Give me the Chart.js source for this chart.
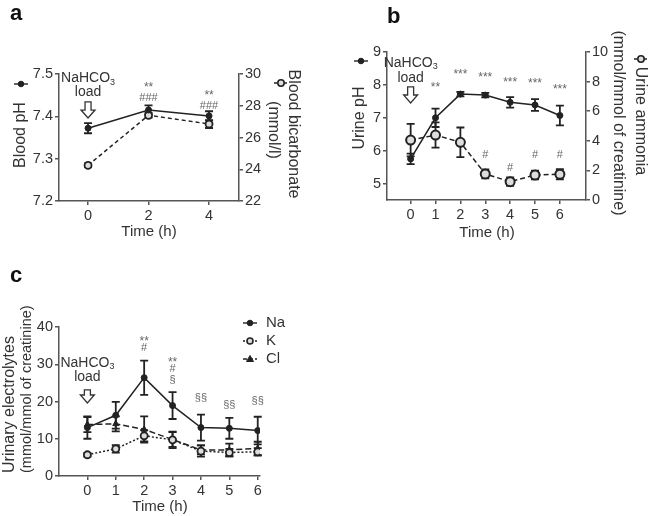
<!DOCTYPE html>
<html>
<head>
<meta charset="utf-8">
<script src="https://cdn.jsdelivr.net/npm/chart.js@4"></script>
<style>
  html, body { margin: 0; padding: 0; background: #fff; }
  #wrap { position: relative; width: 648px; height: 516px; }
  canvas { position: absolute; left: 0; top: 0; }
</style>
</head>
<body>
<div id="wrap">
  <canvas id="chartA" width="648" height="516"></canvas>
  <canvas id="chartB" width="648" height="516"></canvas>
  <canvas id="chartC" width="648" height="516"></canvas>
</div>
<script>
const FONT = "'Liberation Sans', Arial, Helvetica, sans-serif";
const INK = '#222';
const AXIS = '#555';
const TEXT = '#333';
const NOTE = '#666';
const BOX = 36; // fixed axis box size, labels live inside it

// ---- panel a: blood pH / bicarbonate ----
const timeA = [0, 2, 4];
const bloodPH = [7.372, 7.415, 7.401];
const bloodPHErr = [0.012, 0.011, 0.011];
const bicarb = [24.25, 27.4, 26.85];
const bicarbErr = [0.12, 0.15, 0.25];
const ticksTimeA = [0, 2, 4];
const ticksPHA = [7.2, 7.3, 7.4, 7.5];
const ticksBicarb = [22, 24, 26, 28, 30];
const notesA = [
  { x: 2, y: 7.474, t: '**' }, { x: 2, y: 7.443, t: '###' },
  { x: 4, y: 7.455, t: '**' }, { x: 4, y: 7.424, t: '###' }
];

// ---- panel b: urine pH / ammonia ----
const timeB = [0, 1, 2, 3, 4, 5, 6];
const urinePH = [5.75, 7.0, 7.72, 7.69, 7.47, 7.39, 7.07];
const urinePHErr = [0.16, 0.28, 0.07, 0.07, 0.16, 0.18, 0.3];
const ammonia = [4.05, 4.39, 3.9, 1.76, 1.24, 1.69, 1.74];
const ammoniaErr = [1.1, 0.85, 1.0, 0.3, 0.28, 0.3, 0.35];
const ticksTimeB = [0, 1, 2, 3, 4, 5, 6];
const ticksPHB = [5, 6, 7, 8, 9];
const ticksAmmonia = [0, 2, 4, 6, 8, 10];
const notesB = [
  { x: 1, y: 8.0, t: '**' }, { x: 2, y: 8.39, t: '***' }, { x: 3, y: 8.3, t: '***' },
  { x: 4, y: 8.15, t: '***' }, { x: 5, y: 8.12, t: '***' }, { x: 6, y: 7.94, t: '***' },
  { x: 3, y: 5.88, t: '#' }, { x: 4, y: 5.48, t: '#' }, { x: 5, y: 5.88, t: '#' }, { x: 6, y: 5.88, t: '#' }
];

// ---- panel c: urinary electrolytes ----
const timeC = [0, 1, 2, 3, 4, 5, 6];
const sodium = [13.0, 16.3, 26.4, 18.9, 13.0, 12.8, 12.2];
const sodiumErr = [3.0, 3.6, 4.6, 3.6, 3.5, 2.8, 3.7];
const potassium = [5.7, 7.3, 10.8, 9.7, 6.7, 6.3, 6.5];
const potassiumErr = [0.5, 1.0, 1.5, 2.2, 1.5, 1.0, 1.0];
const chloride = [13.8, 14.0, 12.5, 9.8, 7.0, 7.0, 7.4];
const chlorideErr = [2.0, 2.0, 3.5, 2.0, 1.2, 1.7, 1.8];
const ticksTimeC = [0, 1, 2, 3, 4, 5, 6];
const ticksElec = [0, 10, 20, 30, 40];
const notesC = [
  { x: 2, y: 36.6, t: '**' }, { x: 2, y: 34.4, t: '#' },
  { x: 3, y: 31.2, t: '**' }, { x: 3, y: 28.7, t: '#' }, { x: 3, y: 25.8, t: '§' },
  { x: 4, y: 21.0, t: '§§' }, { x: 5, y: 19.1, t: '§§' }, { x: 6, y: 20.2, t: '§§' }
];

const pts = (xs, ys) => xs.map((x, i) => ({ x: x, y: ys[i] }));

function axis(pos, min, max, ticks, fmt) {
  return {
    type: 'linear', position: pos, min: min, max: max,
    afterBuildTicks: s => { s.ticks = ticks.map(v => ({ value: v })); },
    afterFit: s => {
      if (s.isHorizontal()) s.height = BOX; else s.width = BOX;
      s.paddingLeft = s.paddingRight = s.paddingTop = s.paddingBottom = 0;
    },
    grid: { drawOnChartArea: false, color: AXIS, tickLength: 4, lineWidth: 1.5 },
    border: { color: AXIS, width: 1.5 },
    ticks: {
      color: TEXT, font: { family: FONT, size: 14.5 }, padding: 2,
      autoSkip: false, maxRotation: 0, callback: fmt || (v => String(v))
    }
  };
}

function series(data, errs, opts) {
  return Object.assign({
    data: data, errors: errs,
    borderColor: INK, borderWidth: 1.5, pointBorderColor: INK,
    pointBackgroundColor: INK, pointRadius: 3, pointBorderWidth: 1,
    tension: 0, fill: false
  }, opts);
}

const errorBars = {
  id: 'errorBars',
  beforeDatasetsDraw(chart) {
    const ctx = chart.ctx;
    chart.data.datasets.forEach((ds, i) => {
      if (!ds.errors) return;
      const meta = chart.getDatasetMeta(i);
      const xs = chart.scales[meta.xAxisID], ys = chart.scales[meta.yAxisID];
      ctx.save();
      ctx.strokeStyle = INK; ctx.lineWidth = 1.8;
      ds.data.forEach((p, j) => {
        const e = ds.errors[j];
        const x = xs.getPixelForValue(p.x);
        const y1 = ys.getPixelForValue(p.y - e), y2 = ys.getPixelForValue(p.y + e);
        ctx.beginPath();
        ctx.moveTo(x, y1); ctx.lineTo(x, y2);
        ctx.moveTo(x - 4, y1); ctx.lineTo(x + 4, y1);
        ctx.moveTo(x - 4, y2); ctx.lineTo(x + 4, y2);
        ctx.stroke();
      });
      ctx.restore();
    });
  }
};

// ---- drawing helpers ----
function text(ctx, t, x, y, size, opts) {
  opts = opts || {};
  ctx.save();
  ctx.translate(x, y);
  if (opts.rot) ctx.rotate(opts.rot);
  ctx.font = (opts.bold ? 'bold ' : '') + size + 'px ' + FONT;
  ctx.fillStyle = opts.color || TEXT;
  ctx.textAlign = opts.align || 'center';
  ctx.textBaseline = opts.base || 'middle';
  ctx.fillText(t, 0, 0);
  ctx.restore();
}

function marker(ctx, x, y, kind) {
  ctx.save();
  ctx.strokeStyle = INK; ctx.lineWidth = 1.4;
  ctx.setLineDash(kind.dash || []);
  ctx.beginPath(); ctx.moveTo(x - 7, y); ctx.lineTo(x + 7, y); ctx.stroke();
  ctx.setLineDash([]);
  ctx.fillStyle = kind.fill; ctx.lineWidth = kind.open ? 1.6 : 1;
  ctx.beginPath();
  if (kind.tri) {
    ctx.moveTo(x, y - 3.5); ctx.lineTo(x + 3.5, y + 2.5); ctx.lineTo(x - 3.5, y + 2.5); ctx.closePath();
  } else {
    ctx.arc(x, y, kind.r || 2.8, 0, Math.PI * 2);
  }
  ctx.fill(); ctx.stroke();
  ctx.restore();
}

function loadArrow(ctx, chart, yTop, yTip, yLine1, yLine2) {
  const x = chart.scales.x.getPixelForValue(0);
  const ys = chart.scales.y;
  const t = ys.getPixelForValue(yTop), b = ys.getPixelForValue(yTip);
  ctx.save();
  ctx.font = '14px ' + FONT;
  const w1 = ctx.measureText('NaHCO').width;
  ctx.font = '9px ' + FONT;
  const w2 = ctx.measureText('3').width;
  const x0 = x - (w1 + w2) / 2, y1 = ys.getPixelForValue(yLine1);
  text(ctx, 'NaHCO', x0, y1, 14, { align: 'left' });
  text(ctx, '3', x0 + w1, y1 + 4, 9, { align: 'left' });
  text(ctx, 'load', x, ys.getPixelForValue(yLine2), 14);
  const hh = 8;
  ctx.beginPath();
  ctx.moveTo(x - 3, t); ctx.lineTo(x + 3, t); ctx.lineTo(x + 3, b - hh); ctx.lineTo(x + 7, b - hh);
  ctx.lineTo(x, b); ctx.lineTo(x - 7, b - hh); ctx.lineTo(x - 3, b - hh); ctx.closePath();
  ctx.fillStyle = '#fff'; ctx.fill();
  ctx.strokeStyle = TEXT; ctx.lineWidth = 1.3; ctx.stroke();
  ctx.restore();
}

function notes(ctx, chart, list) {
  list.forEach(n => {
    const x = chart.scales.x.getPixelForValue(n.x);
    const y = chart.scales.y.getPixelForValue(n.y);
    const star = n.t.indexOf('*') >= 0;
    text(ctx, n.t, x, y + (star ? 2.5 : 0), star ? 12 : 11, { color: NOTE });
  });
}

const solidDot = { fill: INK };
const openDot = { fill: '#ddd', open: true, dash: [3, 2], r: 3.2 };

// area = [left, top, right, bottom] of the plot, sides = axes present
function makeChart(id, datasets, scales, area, sides, decor) {
  const pad = {
    left: area[0] - (sides.left ? BOX : 0),
    top: area[1],
    right: 648 - area[2] - (sides.right ? BOX : 0),
    bottom: 516 - area[3] - BOX
  };
  return new Chart(document.getElementById(id), {
    type: 'line',
    data: { datasets: datasets },
    options: {
      responsive: false, animation: false,
      layout: { padding: pad },
      scales: scales,
      plugins: { legend: { display: false }, tooltip: { enabled: false } }
    },
    plugins: [errorBars, { id: 'decor' + id, afterDraw: chart => decor(chart.ctx, chart) }]
  });
}

// ---- panel a ----
makeChart('chartA', [
  series(pts(timeA, bloodPH), bloodPHErr, { yAxisID: 'y' }),
  series(pts(timeA, bicarb), bicarbErr, {
    yAxisID: 'y2', borderDash: [4, 3], pointBackgroundColor: '#ddd', pointRadius: 3.5, pointBorderWidth: 1.8
  })
], {
  x: axis('bottom', -0.96, 4.99, ticksTimeA),
  y: axis('left', 7.2, 7.5, ticksPHA, v => v.toFixed(1)),
  y2: axis('right', 22, 30, ticksBicarb)
}, [59, 74, 239, 201], { left: true, right: true }, (ctx, chart) => {
  text(ctx, 'a', 10, 20, 22, { bold: true, align: 'left', base: 'alphabetic', color: '#111' });
  text(ctx, 'Time (h)', 149, 232, 15);
  text(ctx, 'Blood pH', 21, 135, 16, { rot: -Math.PI / 2 });
  marker(ctx, 21, 84, solidDot);
  text(ctx, 'Blood bicarbonate', 293, 134, 16, { rot: Math.PI / 2 });
  text(ctx, '(mmol/l)', 273, 130, 16, { rot: Math.PI / 2 });
  marker(ctx, 281, 83, openDot);
  loadArrow(ctx, chart, 7.434, 7.396, 7.49, 7.457);
  notes(ctx, chart, notesA);
});

// ---- panel b ----
makeChart('chartB', [
  series(pts(timeB, urinePH), urinePHErr, { yAxisID: 'y' }),
  series(pts(timeB, ammonia), ammoniaErr, {
    yAxisID: 'y2', borderDash: [5, 3], pointBackgroundColor: '#ddd', pointRadius: 4.5, pointBorderWidth: 2
  })
], {
  x: axis('bottom', -0.95, 7.05, ticksTimeB),
  y: axis('left', 4.5, 9, ticksPHB),
  y2: axis('right', 0, 10, ticksAmmonia)
}, [387, 52, 586, 200], { left: true, right: true }, (ctx, chart) => {
  text(ctx, 'b', 387, 23, 22, { bold: true, align: 'left', base: 'alphabetic', color: '#111' });
  text(ctx, 'Time (h)', 487, 233, 15);
  text(ctx, 'Urine pH', 360, 118, 16, { rot: -Math.PI / 2 });
  marker(ctx, 361, 61, solidDot);
  text(ctx, 'Urine ammonia', 640, 121, 16, { rot: Math.PI / 2 });
  text(ctx, '(mmol/mmol of creatinine)', 618, 123, 16, { rot: Math.PI / 2 });
  marker(ctx, 641, 59, openDot);
  loadArrow(ctx, chart, 7.94, 7.45, 8.67, 8.21);
  notes(ctx, chart, notesB);
});

// ---- panel c ----
makeChart('chartC', [
  series(pts(timeC, sodium), sodiumErr, {}),
  series(pts(timeC, potassium), potassiumErr, {
    borderDash: [2, 2], pointBackgroundColor: '#ddd', pointRadius: 3.5, pointBorderWidth: 1.8
  }),
  series(pts(timeC, chloride), chlorideErr, { borderDash: [6, 3], pointStyle: 'triangle', pointRadius: 3.5 })
], {
  x: axis('bottom', -1.0, 6.08, ticksTimeC),
  y: axis('left', 0, 40, ticksElec)
}, [59, 327, 260, 476], { left: true, right: false }, (ctx, chart) => {
  text(ctx, 'c', 10, 282, 22, { bold: true, align: 'left', base: 'alphabetic', color: '#111' });
  text(ctx, 'Time (h)', 160, 507, 15);
  text(ctx, 'Urinary electrolytes', 10, 473, 16, { rot: -Math.PI / 2, align: 'left' });
  text(ctx, '(mmol/mmol of creatinine)', 27, 473, 14.5, { rot: -Math.PI / 2, align: 'left' });
  loadArrow(ctx, chart, 23.1, 19.6, 30.4, 26.6);
  notes(ctx, chart, notesC);
  const legend = [['Na', solidDot], ['K', { fill: '#ddd', open: true, dash: [2, 2], r: 3 }], ['Cl', { fill: INK, tri: true, dash: [4, 2] }]];
  legend.forEach((l, i) => {
    marker(ctx, 250, 323 + i * 18, l[1]);
    text(ctx, l[0], 266, 323 + i * 18, 15, { align: 'left' });
  });
});
</script>
</body>
</html>
